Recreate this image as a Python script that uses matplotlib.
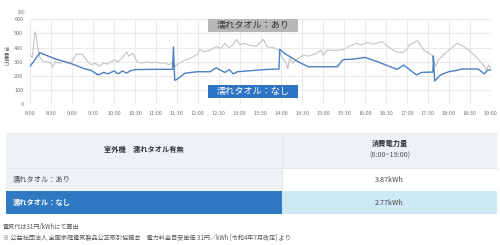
import matplotlib
matplotlib.use("Agg")
import matplotlib.pyplot as plt
from matplotlib.patches import Rectangle

plt.rcParams['font.family'] = ['Noto Sans CJK JP', 'DejaVu Sans']

# ---- data ----
with_towel_t = [8.00, 8.05, 8.08, 8.11, 8.14, 8.17, 8.22, 8.30, 8.40, 8.50, 8.53, 8.60, 8.70, 8.80,
                8.90, 9.00, 9.10, 9.25, 9.35, 9.45, 9.55, 9.65, 9.75, 9.85, 10.00, 10.10, 10.20,
                10.30, 10.35, 10.45, 10.55, 10.65, 10.80, 10.90, 11.00, 11.10, 11.20, 11.30, 11.40,
                11.42, 11.45, 11.55, 11.70, 11.85, 12.00, 12.05, 12.15, 12.30, 12.45, 12.55, 12.65,
                12.75, 12.85, 12.93, 13.00, 13.10, 13.25, 13.40, 13.57, 13.65, 13.80, 13.95, 14.00,
                14.10, 14.15, 14.20, 14.27, 14.35, 14.45, 14.52, 14.65, 14.84, 14.95, 15.00, 15.10,
                15.30, 15.47, 15.60, 15.80, 15.90, 16.05, 16.20, 16.40, 16.55, 16.73, 16.90, 17.00,
                17.05, 17.25, 17.40, 17.60, 17.65, 17.68, 17.75, 17.91, 18.10, 18.20, 18.30, 18.47,
                18.65, 18.86, 18.90, 18.95, 19.00]
with_towel_w = [350, 330, 420, 512, 490, 418, 336, 305, 300, 290, 262, 300, 290, 305,
                295, 300, 355, 350, 310, 280, 290, 270, 290, 285, 313, 300, 330,
                371, 340, 360, 300, 290, 300, 292, 300, 290, 295, 280, 290,
                310, 265, 290, 312, 330, 355, 388, 370, 383, 407, 395, 430,
                400, 420, 459, 420, 430, 415, 410, 459, 407, 400, 383, 336,
                300, 254, 325, 290, 313, 332, 348, 340, 360, 383, 345, 383,
                380, 385, 407, 430, 420, 435, 425, 442, 407, 371, 365, 388,
                418, 449, 383, 348, 300, 265, 313, 360, 407, 430, 418, 383,
                336, 265, 242, 277, 254]

no_towel_t = [8.00, 8.23, 8.60, 9.00, 9.30, 9.45, 9.62, 9.75, 9.85, 10.00, 10.10, 10.20, 10.30,
              10.40, 10.50, 11.00, 11.40, 11.42, 11.45, 11.50, 11.70, 12.00, 12.30, 12.44, 12.55,
              12.65, 12.75, 12.85, 12.95, 13.25, 13.60, 13.94, 13.96, 14.10, 14.40, 14.64, 15.34,
              15.45, 15.52, 15.70, 16.00, 16.30, 16.76, 16.92, 17.23, 17.35, 17.62, 17.63, 17.66,
              17.80, 18.00, 18.20, 18.30, 18.70, 18.85, 18.92, 19.00]
no_towel_w = [270, 364, 320, 285, 250, 240, 207, 225, 215, 235, 215, 235, 220,
              238, 245, 247, 247, 405, 170, 175, 220, 230, 230, 258, 240,
              225, 245, 215, 230, 237, 245, 249, 388, 355, 300, 265, 265,
              310, 317, 318, 331, 300, 247, 277, 207, 225, 228, 341, 164,
              207, 230, 240, 249, 249, 214, 240, 242]

x_ticks = [8 + 0.5 * i for i in range(23)]
x_labels = [f"{int(t)}:{'30' if t % 1 else '00'}" for t in x_ticks]
y_ticks = [0, 100, 200, 300, 400, 500, 600]

legend_with = "濡れタオル：あり"
legend_no = "濡れタオル：なし"

table_header = ["室外機　濡れタオル有無", "消費電力量\n(8:00~19:00)"]
table_rows = [["濡れタオル：あり", "3.87kWh"], ["濡れタオル：なし", "2.77kWh"]]
footnotes = ["電気代は31円/kWhにて算出",
             "※ 公益社団法人 全国家庭電気製品公正取引協議会　電力料金目安単価 31円／kWh [令和4年7月改定] より"]

W, H = 500, 245
fig = plt.figure(figsize=(W / 100, H / 100), dpi=100)
fig.patch.set_facecolor("white")

# ---- chart ----
x0, x1, ytop, ybot = 30.3, 490.7, 19.3, 104.3
ax = fig.add_axes([x0 / W, 1 - ybot / H, (x1 - x0) / W, (ybot - ytop) / H])
ax.set_xlim(8, 19)
ax.set_ylim(0, 600)
for s in ax.spines.values():
    s.set_visible(False)
ax.set_xticks(x_ticks)
ax.set_xticklabels(x_labels)
ax.set_yticks(y_ticks)
ax.tick_params(length=0, labelsize=4, colors="#777777", pad=5)
ax.grid(True, color="#e6e6e6", linewidth=0.6)
ax.set_axisbelow(True)
ax.plot(with_towel_t, with_towel_w, color="#c4c4c4", linewidth=0.8)
ax.plot(no_towel_t, no_towel_w, color="#4a80c4", linewidth=1.0)

# ---- overlay in pixel coordinates ----
ov = fig.add_axes([0, 0, 1, 1])
ov.set_xlim(0, W)
ov.set_ylim(H, 0)
ov.axis("off")
ov.patch.set_alpha(0)

ov.text(21, 12.5, "(W)", fontsize=3.5, color="#777777", ha="center", va="center")
ov.text(6.5, 57, "消\n費\n電\n力", fontsize=3.8, color="#666666", ha="center", va="center",
        linespacing=0.95)

# legend boxes
ov.add_patch(Rectangle((208, 19), 90, 13, facecolor="#b7b7b7", edgecolor="none", zorder=3))
ov.text(253, 25.7, legend_with, fontsize=6.6, color="#333333", ha="center", va="center", zorder=4)
ov.add_patch(Rectangle((208, 85), 90, 12.5, facecolor="#2e74c4", edgecolor="none", zorder=3))
ov.text(253, 91.3, legend_no, fontsize=6.6, color="white", ha="center", va="center", zorder=4)

# table
tl, tm, tr = 6, 282, 497
r0, r1, r2, r3 = 133, 168, 191, 214
ov.add_patch(Rectangle((tl, r0), tm - tl, r1 - r0, facecolor="#eef2f5", edgecolor="none"))
ov.add_patch(Rectangle((tm, r0), tr - tm, r1 - r0, facecolor="#eef2f5", edgecolor="none"))
ov.add_patch(Rectangle((tl, r1), tm - tl, r2 - r1, facecolor="#eef2f5", edgecolor="none"))
ov.add_patch(Rectangle((tm, r1), tr - tm, r2 - r1, facecolor="white", edgecolor="none"))
ov.add_patch(Rectangle((tl, r2), tm - tl, r3 - r2, facecolor="#2f78c2", edgecolor="none"))
ov.add_patch(Rectangle((tm, r2), tr - tm, r3 - r2, facecolor="#cfe8f6", edgecolor="none"))
ov.plot([tm, tm], [r0, r2], color="#dfe4e8", linewidth=0.6)
ov.plot([tl, tr], [r1, r1], color="#dfe4e8", linewidth=0.6)
ov.plot([tl, tr], [r0, r0], color="#e6eaee", linewidth=0.5)

cm_l = (tl + tm) / 2
cm_r = (tm + tr) / 2
ov.text(cm_l, 149.5, table_header[0], fontsize=5.2, fontweight="bold", color="#333333",
        ha="center", va="center")
h1, h2 = table_header[1].split("\n")
ov.text(cm_r, 143.5, h1, fontsize=5.2, fontweight="bold", color="#333333", ha="center", va="center")
ov.text(cm_r, 155.5, h2, fontsize=5.2, color="#555555", ha="center", va="center")
ov.text(13, 179.5, table_rows[0][0], fontsize=5.2, color="#444444", ha="left", va="center")
ov.text(cm_r, 179.5, table_rows[0][1], fontsize=5.2, color="#444444", ha="center", va="center")
ov.text(13, 202.5, table_rows[1][0], fontsize=5.2, fontweight="bold", color="white",
        ha="left", va="center")
ov.text(cm_r, 202.5, table_rows[1][1], fontsize=5.2, color="#444444", ha="center", va="center")

ov.text(3, 227, footnotes[0], fontsize=4.4, color="#555555", ha="left", va="center")
ov.text(3, 237, footnotes[1], fontsize=4.4, color="#555555", ha="left", va="center")

fig.savefig("out.png", dpi=100, facecolor="white")
